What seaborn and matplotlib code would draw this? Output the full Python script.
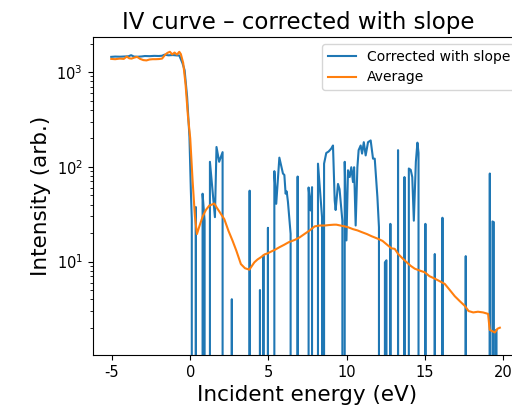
import matplotlib
matplotlib.use("Agg")
import matplotlib.pyplot as plt
import seaborn as sns

plt.rcParams["axes.unicode_minus"] = False

# ---- data (energy in eV, intensity arb.; 0 = non-positive) ----
blue_energy = [
    -5.05, -4.8, -4.5, -4.2, -3.95, -3.78, -3.6, -3.35, -3.1, -2.9, -2.6, -2.3, -2.0, -1.8,
    -1.64, -1.4, -1.1, -0.85, -0.7, -0.5, -0.36, -0.2, -0.05, 0.04, 0.1, 0.2,
    0.36, 0.42, 0.6, 0.79, 0.92, 0.98, 1.2, 1.26, 1.58, 1.68, 1.85, 2.07, 2.18,
    2.6, 2.66, 2.72, 3.75, 3.8, 3.85, 4.4, 4.46, 4.52, 4.62, 4.68, 4.74, 4.9, 4.97, 5.03,
    5.3, 5.38, 5.5, 5.7, 5.93, 6.02, 6.1, 6.17, 6.25, 6.42, 6.47,
    6.8, 6.87, 6.95, 7.5, 7.57, 7.7, 7.79, 7.85,
    8.1, 8.17, 8.43, 8.48, 8.56, 8.7, 8.85, 9.02, 9.13, 9.24, 9.3, 9.45, 9.55, 9.73, 9.8,
    9.88, 9.99, 10.09, 10.2, 10.3, 10.41, 10.48, 10.58, 10.69, 10.77, 10.9, 10.99, 11.1,
    11.22, 11.37, 11.54, 11.69, 11.8, 11.97, 12.07, 12.12,
    12.4, 12.45, 12.55, 12.6, 12.75, 12.8, 12.85, 13.25, 13.29, 13.34, 13.65, 13.7, 13.75,
    13.9, 13.98, 14.1, 14.2, 14.3, 14.43, 14.53, 14.6, 14.66,
    14.95, 15.04, 15.09, 15.6, 15.64, 15.69, 16.08, 16.13, 16.18, 17.57, 17.62, 17.67,
    19.1, 19.16, 19.22, 19.28, 19.33, 19.42, 19.47, 19.52, 19.57, 19.62,
]
blue_intensity = [
    1450, 1460, 1455, 1465, 1470, 1510, 1460, 1455, 1465, 1480, 1475, 1485, 1480, 1490,
    1530, 1505, 1515, 1500, 1500, 1250, 1050, 550, 207, 56, 28, 0,
    37.6, 0, 0, 52, 27, 0, 0, 113, 29.4, 162, 113, 143, 0,
    0, 4.0, 0, 0, 56, 0, 0, 5.0, 0, 0, 11.6, 0, 0, 22.7, 0,
    0, 90, 40.7, 125, 85, 82, 52, 55, 42.5, 19.6, 0,
    0, 79, 0, 0, 60.5, 34.6, 61, 0,
    0, 108, 29.4, 0, 108, 140, 145, 156, 168, 44, 35, 66, 58, 27, 0,
    113, 16.7, 92, 78, 99, 69, 99, 24, 99, 150, 168, 138, 182,
    132, 182, 190, 122, 122, 48, 23, 0,
    0, 9.8, 10.3, 0, 0, 25, 0, 0, 150, 0, 0, 78, 0,
    0, 96, 93, 78, 27, 113, 180, 140, 0,
    0, 25, 0, 0, 12, 0, 0, 29, 0, 0, 11.4, 0,
    0, 85, 0, 0, 26.5, 26, 0, 0, 1.9, 0,
]

avg_energy = [
    -5.05, -4.8, -4.5, -4.25, -4.06, -3.9, -3.75, -3.6, -3.4, -3.2, -3.0, -2.8, -2.6, -2.4,
    -2.2, -2.0, -1.8, -1.6, -1.45, -1.3, -1.15, -1.0, -0.85, -0.7, -0.6, -0.45, -0.3, -0.15,
    0.0, 0.15, 0.3, 0.43, 0.6, 0.8, 1.0, 1.22, 1.4, 1.54, 1.7, 1.9, 2.18, 2.45, 2.7, 2.95,
    3.24, 3.5, 3.78, 4.1, 4.3, 4.52, 4.76, 4.95, 5.2, 5.45, 5.72, 6.0, 6.3, 6.68, 7.0, 7.32,
    7.64, 7.96, 8.28, 8.6, 8.9, 9.2, 9.35, 9.6, 9.88, 10.1, 10.4, 10.7, 10.95, 11.3, 11.6,
    12.0, 12.3, 12.6, 12.86, 13.08, 13.3, 13.6, 13.85, 14.1, 14.36, 14.7, 15.0, 15.3, 15.64,
    15.95, 16.28, 16.6, 16.92, 17.25, 17.56, 17.8, 18.1, 18.4, 18.73, 19.05, 19.15, 19.48,
    19.65, 19.8,
]
avg_intensity = [
    1380, 1370, 1390, 1380, 1460, 1400, 1390, 1420, 1450, 1380, 1340, 1330, 1360, 1370,
    1370, 1375, 1390, 1530, 1600, 1640, 1540, 1610, 1530, 1640, 1550, 1250, 750, 350,
    200, 72, 30, 19.5, 24, 30, 35, 39, 40, 41, 37, 33, 28, 21, 16.7, 13,
    9.4, 8.5, 8.2, 9.8, 10.5, 11.1, 11.9, 12.2, 12.8, 13.4, 14.2, 15.0, 16.0, 16.9, 18.0, 19.6,
    21.3, 23.5, 24, 24, 24.3, 24.5, 24.5, 24, 23.5, 23, 22, 21.3, 20.5, 19.5, 18.5,
    17.4, 16.5, 15, 13.8, 13.6, 12, 10.7, 9.8, 9.0, 8.4, 8.0, 7.7, 7.0, 6.6,
    6.2, 5.8, 5.0, 4.3, 3.8, 3.4, 3.0, 2.9, 2.95, 2.9, 2.8, 1.9, 1.78,
    1.95, 2.0,
]

title = "IV curve \u2013 corrected with slope"
xlabel = "Incident energy (eV)"
ylabel = "Intensity (arb.)"
series_labels = ["Corrected with slope", "Average"]

# ---- figure ----
fig = plt.figure(figsize=(5.12, 4.13), dpi=100)
ax = fig.add_axes([92.5 / 512, 58 / 413, 430 / 512, 318 / 413])

sns.lineplot(x=blue_energy, y=blue_intensity, ax=ax, color="C0",
             label=series_labels[0], sort=True, errorbar=None)
sns.lineplot(x=avg_energy, y=avg_intensity, ax=ax, color="C1",
             label=series_labels[1], sort=True, errorbar=None)

ax.set_yscale("log")
ax.set_xlim(-6.25, 21.25)
ax.set_ylim(1.03, 2350)
ax.set_xticks([-5, 0, 5, 10, 15, 20])
ax.tick_params(labelsize=10.5)

ax.set_title(title, fontsize=16.5, x=0.479)
ax.set_xlabel(xlabel, fontsize=15.5)
ax.set_ylabel(ylabel, fontsize=15.5)
ax.legend(loc="upper right", fontsize=10)

fig.savefig("out.png", dpi=100)
